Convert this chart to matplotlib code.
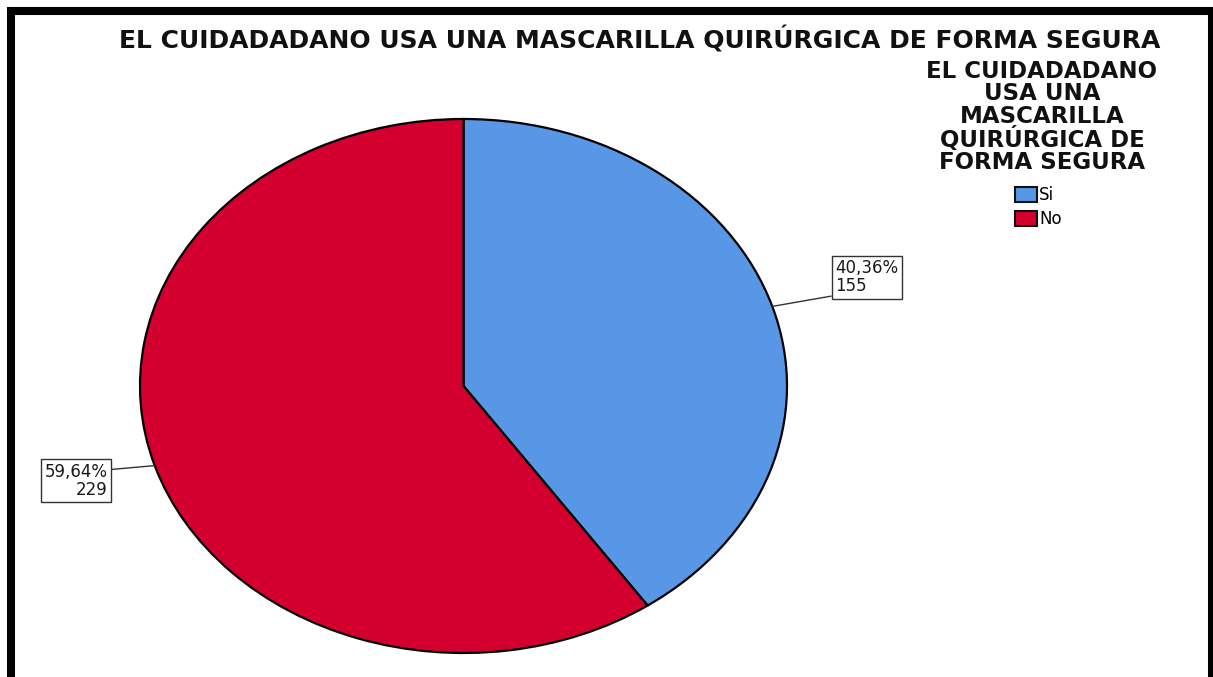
import matplotlib
matplotlib.use("Agg")
import matplotlib.pyplot as plt
from matplotlib.patches import Rectangle, Patch
import numpy as np

# Data
categories = ["Si", "No"]
counts = [155, 229]
percent_labels = ["40,36%", "59,64%"]
colors = ["#5797E6", "#D3002F"]
title = "EL CUIDADADANO USA UNA MASCARILLA QUIRÚRGICA DE FORMA SEGURA"
legend_title = "EL CUIDADADANO\nUSA UNA\nMASCARILLA\nQUIRÚRGICA DE\nFORMA SEGURA"

W, H = 1213, 677
fig = plt.figure(figsize=(W / 100, H / 100), dpi=100)
fig.patch.set_facecolor("white")


def box(x0, y0, x1, y1):
    """Pixel box (origin top-left) to figure-fraction rect."""
    return [x0 / W, 1 - y1 / H, (x1 - x0) / W, (y1 - y0) / H]


# Thick black frame around the chart area
fig.patches.append(Rectangle((11 / W, -2 / H), 1201 / W, 668 / H,
                             transform=fig.transFigure, fill=False,
                             edgecolor="black", linewidth=5.8, zorder=0))

# Pie (stretched into an ellipse)
ax = fig.add_axes(box(140, 119, 787, 653))
wedges, _ = ax.pie(counts, colors=colors, startangle=90, counterclock=False,
                   wedgeprops=dict(edgecolor="black", linewidth=1.6))
ax.set_aspect("auto")
ax.set_xlim(-1, 1)
ax.set_ylim(-1, 1)
ax.axis("off")

# Value labels with leader lines
offsets = [(63, 11), (-47, 3)]
for w, pct, n, off in zip(wedges, percent_labels, counts, offsets):
    mid = np.deg2rad((w.theta1 + w.theta2) / 2)
    pt = (np.cos(mid), np.sin(mid))
    right = off[0] > 0
    ax.annotate(f"{pct}\n{n}", xy=pt, xytext=off, textcoords="offset pixels",
                ha="left" if right else "right",
                va="bottom" if right else "top",
                multialignment="left" if right else "right",
                fontsize=12, linespacing=1.0, color="#1a1a1a",
                bbox=dict(boxstyle="square,pad=0.22", fc="white",
                          ec="#333333", lw=1.0),
                arrowprops=dict(arrowstyle="-", color="#333333", lw=1.0,
                                relpos=(0, 0) if right else (1, 0.8),
                                shrinkA=0, shrinkB=0),
                annotation_clip=False)

# Title
fig.text(640 / W, 1 - 40 / H, title, ha="center", va="center",
         fontsize=18, fontweight="bold", color="#111111")

# Legend title and entries
fig.text(1042 / W, 1 - 117 / H, legend_title, ha="center", va="center",
         fontsize=16.5, fontweight="bold", linespacing=0.95, color="#111111",
         multialignment="center")

handles = [Patch(facecolor=c, edgecolor="#111111", linewidth=1.5) for c in colors]
fig.legend(handles, categories, loc="upper left",
           bbox_to_anchor=(1015 / W, 1 - 186 / H), frameon=False,
           fontsize=12, handlelength=1.3, handleheight=1.0,
           handletextpad=0.15, labelspacing=0.35, borderpad=0.0,
           borderaxespad=0.0)

fig.savefig("out.png", dpi=100, facecolor="white")
